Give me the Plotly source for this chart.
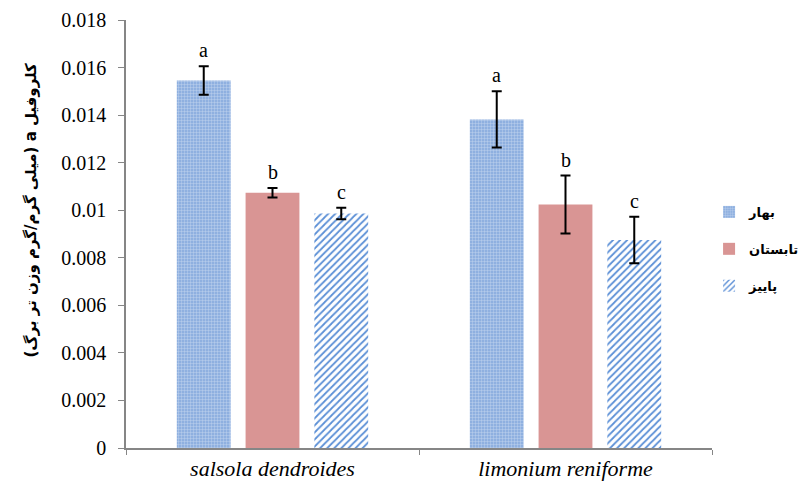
import plotly.graph_objects as go

# Species on the x axis
species = ["salsola dendroides", "limonium reniforme"]

# Season names (legend labels)
seasons = ["بهار", "تابستان", "پاییز"]

# Chlorophyll a means per season, one value per species
spring = [0.01546, 0.01382]
summer = [0.01073, 0.01024]
autumn = [0.00986, 0.00875]

# Error-bar half widths
spring_err = [0.00060, 0.00118]
summer_err = [0.00020, 0.00122]
autumn_err = [0.00024, 0.00098]

# Significance letters
spring_lbl = ["a", "a"]
summer_lbl = ["b", "b"]
autumn_lbl = ["c", "c"]

y_ticks = [0, 0.002, 0.004, 0.006, 0.008, 0.01, 0.012, 0.014, 0.016, 0.018]
y_title = "کلروفیل a (میلی گرم/گرم وزن تر برگ)"

serif = "Liberation Serif"
RLE, PDF = "\u202B", "\u202C"

styles = [
    dict(color="#9bb8e4", pattern=dict(shape="+", fgcolor="#ffffff", bgcolor="#8fb0e0",
                                        size=3, solidity=0.25, fillmode="overlay")),
    dict(color="#d99594"),
    dict(color="#ffffff", pattern=dict(shape="/", fgcolor="#5b8fd6", bgcolor="#ffffff",
                                        size=5, solidity=0.35, fillmode="replace")),
]

fig = go.Figure()
series = [(spring, spring_err, spring_lbl), (summer, summer_err, summer_lbl),
          (autumn, autumn_err, autumn_lbl)]
for name, (vals, errs, lbls), st in zip(seasons, series, styles):
    fig.add_trace(go.Bar(
        x=species, y=vals, name=name, legendgroup=name,
        marker=dict(line=dict(width=0), **st),
        error_y=dict(type="data", array=errs, visible=True, color="#000000",
                     thickness=2, width=5),
        offsetgroup=name,
    ))

# Letters above each error bar, centred over their bar within the group
bargap = 0.296
n = len(seasons)
slot = (1 - bargap) / n
for k, (vals, errs, lbls) in enumerate(series):
    for i in range(len(species)):
        fig.add_annotation(
            x=i + (k - (n - 1) / 2) * slot, y=vals[i] + errs[i], text=lbls[i],
            showarrow=False, yanchor="bottom", yshift=3, xref="x", yref="y",
            font=dict(family=serif, size=20, color="#000000"),
        )

# Rotated y-axis title, right-to-left embedding so the Persian reads correctly
fig.add_annotation(
    x=-0.162, y=0.555, xref="paper", yref="paper", text=RLE + y_title + PDF,
    textangle=-90, showarrow=False, xanchor="center", yanchor="middle",
    font=dict(family="DejaVu Sans", size=15, color="#000000", weight="bold"),
)

fig.update_layout(
    width=801, height=488,
    margin=dict(l=126, r=89, t=20, b=40, autoexpand=False),
    paper_bgcolor="white", plot_bgcolor="white",
    barmode="group", bargap=bargap, bargroupgap=0.217,
    showlegend=True,
    legend=dict(x=0.995, y=0.465, xanchor="left", yanchor="middle",
                font=dict(family="DejaVu Sans", size=13, color="#000000", weight="bold"),
                itemwidth=30, tracegroupgap=17, bgcolor="rgba(0,0,0,0)"),
    xaxis=dict(
        type="category", showline=True, linecolor="#868686", linewidth=1.5,
        ticks="outside", tickson="boundaries", ticklen=5, tickcolor="#868686",
        tickfont=dict(family=serif, size=22, color="#000000", style="italic"),
        showgrid=False, zeroline=False, range=[-0.5, 1.5],
    ),
    yaxis=dict(
        range=[0, 0.018], tickvals=y_ticks,
        ticktext=[f"{v:g}" if v else "0" for v in y_ticks],
        showline=True, linecolor="#868686", linewidth=1.5,
        ticks="outside", ticklen=6, tickcolor="#868686", ticklabelstandoff=8,
        tickfont=dict(family=serif, size=20, color="#000000"),
        showgrid=False, zeroline=False,
    ),
)

fig.write_html("out.html")
